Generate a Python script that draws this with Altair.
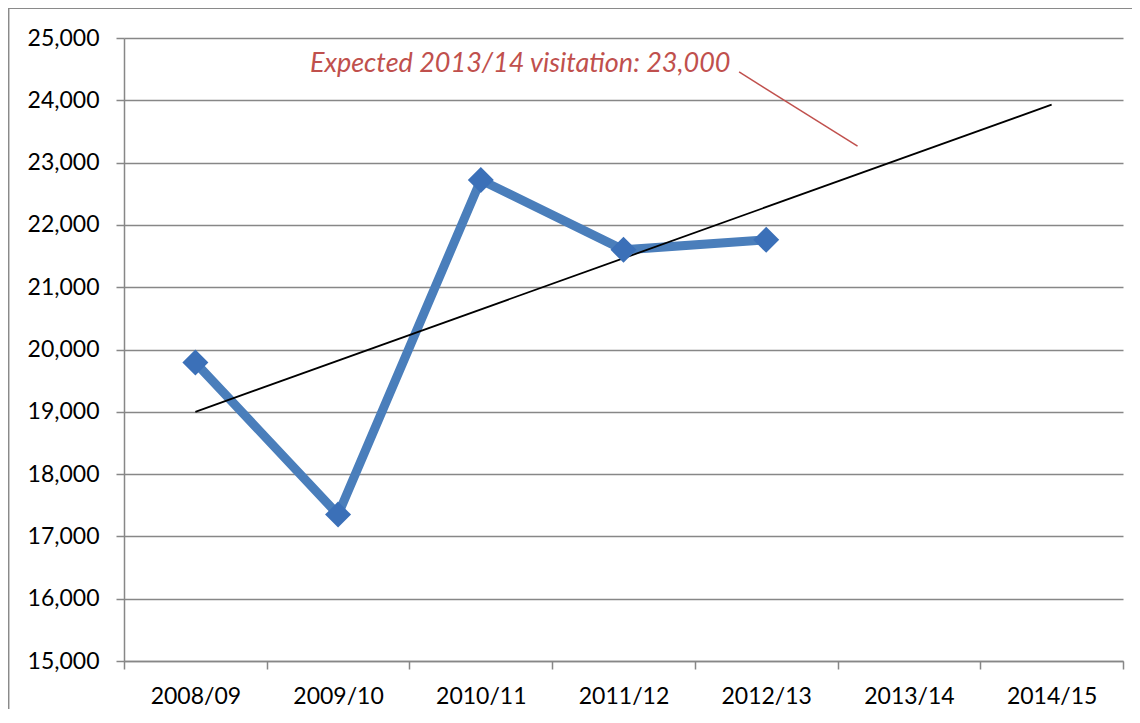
import altair as alt
import pandas as pd

# ---- data ----
years = ["2008/09", "2009/10", "2010/11", "2011/12", "2012/13", "2013/14", "2014/15"]
obs_years = ["2008/09", "2009/10", "2010/11", "2011/12", "2012/13"]
visits = [19790, 17350, 22720, 21600, 21760]
trend_years = ["2008/09", "2014/15"]
trend_values = [19000, 23930]
y_ticks = [15000, 16000, 17000, 18000, 19000, 20000, 21000, 22000, 23000, 24000, 25000]

note_text = ["Expected 2013/14 visitation: 23,000"]
note_x = [4.25]          # position in category units (0..7)
note_y = [24450]
leader_x = [4.31, 5.14]  # category units
leader_y = [24455, 23263]

FONT = "Lato"
GRID = "#878787"
BLUE = "#4a7ebb"
MARK = "#3b70b8"
RED = "#c0504d"

obs = pd.DataFrame({"year": obs_years, "visits": visits})
trend = pd.DataFrame({"year": trend_years, "visits": trend_values})
note = pd.DataFrame({"x": note_x, "visits": note_y, "t": note_text})
leader = pd.DataFrame({"x": leader_x, "visits": leader_y, "o": [0, 1]})

xscale = alt.Scale(type="band", domain=years, paddingInner=0, paddingOuter=0)
yscale = alt.Scale(domain=[15000, 25000], nice=False, zero=False)

xaxis = alt.Axis(title=None, labelAngle=0, tickBand="extent", grid=False,
                 domainColor=GRID, domainWidth=1.5, tickColor=GRID, tickWidth=1.5,
                 tickSize=8, labelFont=FONT, labelFontSize=23, labelColor="black",
                 labelPadding=16)
yaxis = alt.Axis(title=None, values=y_ticks, labelExpr="format(datum.value, ',')",
                 grid=True, gridColor=GRID, gridWidth=1.4, domainColor=GRID,
                 domainWidth=1.5, tickColor=GRID, tickWidth=1.5, tickSize=8,
                 labelFont=FONT, labelFontSize=23, labelColor="black",
                 labelPadding=17)

X = alt.X("year:N", scale=xscale, axis=xaxis, sort=years)
Y = alt.Y("visits:Q", scale=yscale, axis=yaxis)

line = alt.Chart(obs).mark_line(color=BLUE, strokeWidth=9).encode(x=X, y=Y)
points = alt.Chart(obs).mark_point(shape="diamond", filled=True, size=676,
                                   color=MARK, opacity=1).encode(x=X, y=Y)
trendline = alt.Chart(trend).mark_line(color="black", strokeWidth=1.8).encode(x=X, y=Y)

qx = alt.Scale(domain=[0, 7], nice=False, zero=False)
QX = alt.X("x:Q", scale=qx, axis=None)
note_mark = alt.Chart(note).mark_text(align="right", baseline="alphabetic",
                                      font=FONT, fontSize=27, fontStyle="italic",
                                      color=RED).encode(x=QX, y=Y, text="t:N")
leader_mark = alt.Chart(leader).mark_line(color=RED, strokeWidth=1.5).encode(
    x=QX, y=Y, order="o:Q")

border = pd.DataFrame({"k": [0]})
left_border = alt.Chart(border).mark_rule(color="#8a8a8a", strokeWidth=1.5).encode(
    x=alt.value(-115.3), y=alt.value(-30), y2=alt.value(700))
top_border = alt.Chart(border).mark_rule(color="#8a8a8a", strokeWidth=1.5).encode(
    x=alt.value(-116), x2=alt.value(1020), y=alt.value(-29.7))

main = alt.layer(line, trendline, points)
annot = alt.layer(note_mark, leader_mark, left_border, top_border)

chart = alt.layer(main, annot).resolve_scale(x="independent").properties(
    width=999, height=623,
    autosize=alt.AutoSizeParams(type="none"),
    padding={"left": 116, "top": 30, "right": 9, "bottom": 48},
).configure(background="white").configure_view(stroke=None)

chart.save("out.html", embed_options={"renderer": "svg", "actions": False})
